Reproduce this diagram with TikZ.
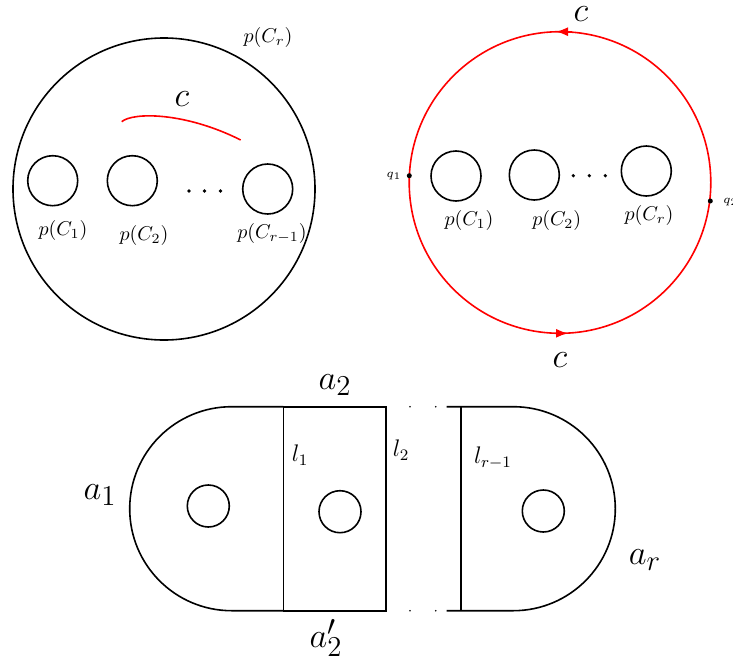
\documentclass[tikz,border=0pt]{standalone}
\usetikzlibrary{arrows.meta}
\begin{document}
\begin{tikzpicture}[x=0.5pt,y=-0.5pt,
  curve/.style={line width=0.8pt},
  hole/.style={line width=0.8pt},
  lab/.style={inner sep=0pt,font=\fontsize{10}{12}\selectfont},
  biglab/.style={inner sep=0pt,font=\fontsize{17}{20}\selectfont},
  alab/.style={inner sep=0pt,font=\fontsize{19}{22}\selectfont},
  llab/.style={inner sep=0pt,font=\fontsize{11.5}{13}\selectfont},
  qlab/.style={inner sep=0pt,font=\fontsize{6.5}{8}\selectfont},
  redarr/.style={red,line width=0.8pt,-{Latex[length=6pt,width=4.5pt]}}]
\useasboundingbox (0,0) rectangle (733,669);

% ---------- top left ----------
\coordinate (L) at (164,189);
\draw[curve] (L) circle (151);
\draw[hole] (52.7,180.7) circle (25);
\draw[hole] (132.3,180.7) circle (25);
\draw[hole] (267.7,189) circle (25);
\foreach \x in {189,204.5,220.5} \fill (\x,191) circle (1.8);
\node[lab] (l1) at (63,230) {$p(C_1)$};
\node[lab] (l2) at (144,235) {$p(C_2)$};
\node[lab] (l3) at (272,233) {$p(C_{r-1})$};
\node[lab] (lr) at (268,37) {$p(C_r)$};
\draw[red,line width=0.8pt] (121.7,121.7) .. controls (133,112) and (185,112) .. (240.7,140);
\node[biglab] (cl) at (182,99) {$c$};

% ---------- top right ----------
\coordinate (R) at (560,182.5);
\draw[red,line width=0.8pt] (R) circle (150.8);
\draw[redarr] (572,31.7) -- (556,31.7);
\draw[redarr] (552,333.3) -- (568,333.3);
\draw[hole] (456,176) circle (25);
\draw[hole] (534.3,175) circle (25);
\draw[hole] (646.3,171) circle (25);
\foreach \x in {573.3,589.3,605.3} \fill (\x,175.7) circle (1.8);
\node[lab] (r1) at (469,220.7) {$p(C_1)$};
\node[lab] (r2) at (556.7,220) {$p(C_2)$};
\node[lab] (rr) at (649,215) {$p(C_r)$};
\fill (409.3,175.7) circle (2.5);
\fill (710.3,201) circle (2.5);
\node[qlab] (q1) at (394,175.7) {$q_1$};
\node[qlab,anchor=west] (q2) at (723,202) {$q_2$};
\node[biglab] (ct) at (581,14) {$c$};
\node[biglab] (cb) at (560,360) {$c$};

% ---------- bottom ----------
\draw[curve] (283.3,406.7) -- (231.7,406.7) arc[start angle=-90,end angle=-270,radius=102] -- (283.3,610.7);
\draw[curve] (283.3,406.7) -- (386,406.7) -- (386,610.7) -- (283.3,610.7);
\draw[curve] (283.5,406.7) -- (283.5,610.7);
\draw[curve] (446.7,406.7) -- (513.3,406.7) arc[start angle=-90,end angle=90,radius=102] -- (446.7,610.7);
\draw[curve] (461,406.7) -- (461,610.7);
\draw[hole] (208.3,506) circle (21);
\draw[hole] (340,511.7) circle (21);
\draw[hole] (543.3,511) circle (21);
\foreach \x in {410,435.7} {\fill (\x,406.7) circle (0.9); \fill (\x,610.7) circle (0.9);}
\node[alab] (a1) at (100,495) {$a_1$};
\node[alab] (a2) at (335,385) {$a_2$};
\node[alab] (a2p) at (326,638) {$a'_2$};
\node[alab] (ar) at (645,560) {$a_r$};
\node[llab] (ll1) at (300,455) {$l_1$};
\node[llab] (ll2) at (401,450) {$l_2$};
\node[llab] (llr) at (493,458) {$l_{r-1}$};
\end{tikzpicture}
\end{document}
